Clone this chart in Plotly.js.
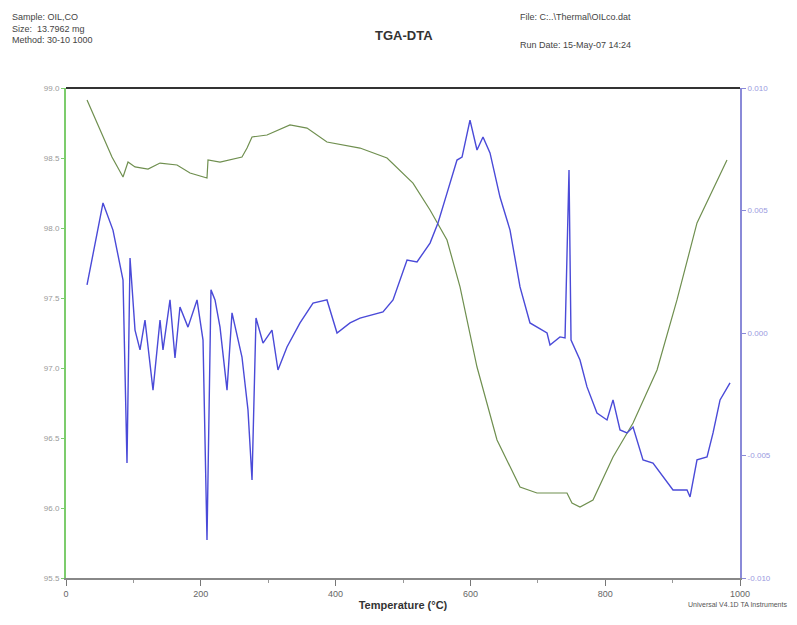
<!DOCTYPE html>
<html>
<head>
<meta charset="utf-8">
<script src="https://cdn.plot.ly/plotly-3.0.1.min.js"></script>
<style>html,body{margin:0;padding:0;background:#fff;}#chart{width:797px;height:625px;}</style>
</head>
<body>
<div id="chart"></div>
<script>
// TGA (weight %) curve, temperature in °C
const tgaTemp = [31.2, 68.2, 84.6, 92.0, 102.4, 121.7, 139.5, 164.7, 184.0, 209.2, 210.7, 228.5, 261.1, 268.6, 276.0, 298.2, 332.3, 357.6, 387.2, 436.2, 476.3, 500.0, 514.8, 540.1, 565.3, 584.6, 609.8, 639.5, 673.6, 698.8, 743.3, 750.7, 762.6, 781.9, 811.6, 841.3, 876.9, 906.5, 936.2, 980.7];
const tgaWeight = [98.914, 98.507, 98.364, 98.471, 98.436, 98.421, 98.464, 98.450, 98.393, 98.357, 98.486, 98.471, 98.507, 98.571, 98.650, 98.664, 98.736, 98.714, 98.614, 98.571, 98.500, 98.393, 98.321, 98.129, 97.914, 97.579, 97.007, 96.486, 96.150, 96.107, 96.107, 96.036, 96.007, 96.057, 96.364, 96.607, 96.986, 97.486, 98.036, 98.486];

// DTA signal curve
const dtaTemp = [31.2, 54.9, 69.7, 84.6, 90.5, 95.0, 102.4, 109.8, 117.2, 129.1, 139.5, 143.9, 154.3, 161.7, 169.1, 181.0, 194.4, 203.3, 209.2, 215.1, 221.1, 228.5, 238.9, 246.3, 261.1, 270.0, 276.0, 281.9, 292.3, 305.6, 314.5, 327.9, 347.2, 366.5, 387.2, 402.1, 421.4, 436.2, 470.3, 485.2, 506.0, 520.8, 540.1, 551.9, 565.3, 580.1, 587.6, 599.4, 609.8, 618.7, 629.1, 643.9, 658.8, 673.6, 688.4, 713.7, 718.1, 732.9, 740.4, 746.3, 749.3, 762.6, 773.0, 787.8, 802.7, 811.6, 822.0, 832.4, 841.3, 856.1, 870.9, 885.8, 900.6, 921.4, 925.9, 936.2, 951.1, 960.0, 970.4, 985.2];
const dtaSignal = [0.00196, 0.00531, 0.0042, 0.00216, -0.00531, 0.00306, 0.00012, -0.00069, 0.00053, -0.00233, 0.00053, -0.00069, 0.00135, -0.00102, 0.00106, 0.00024, 0.00135, -0.00029, -0.00845, 0.00176, 0.00135, 0.00024, -0.00233, 0.00082, -0.00098, -0.00314, -0.006, 0.00061, -0.00041, 0.00012, -0.00151, -0.00057, 0.00041, 0.00122, 0.00135, 0.0, 0.00041, 0.00061, 0.00086, 0.00135, 0.00298, 0.0029, 0.00367, 0.00449, 0.00571, 0.00706, 0.00718, 0.00869, 0.00747, 0.008, 0.00735, 0.00555, 0.0042, 0.00188, 0.00041, 0.0, -0.00049, -0.00016, -0.0002, 0.00665, -0.00029, -0.0011, -0.0022, -0.00327, -0.00355, -0.00273, -0.00396, -0.00408, -0.00384, -0.00518, -0.00531, -0.00588, -0.00641, -0.00641, -0.00669, -0.00518, -0.00506, -0.00408, -0.00273, -0.00204];

// Tick labels
const xTicks = [0, 200, 400, 600, 800, 1000];
const tgaTicks = [99.0, 98.5, 98.0, 97.5, 97.0, 96.5, 96.0, 95.5];
const tgaTickText = ["99.0", "98.5", "98.0", "97.5", "97.0", "96.5", "96.0", "95.5"];
const dtaTicks = [0.010, 0.005, 0.000, -0.005, -0.010];
const dtaTickText = ["0.010", "0.005", "0.000", "-0.005", "-0.010"];

const traces = [
  {x: tgaTemp, y: tgaWeight, type: 'scatter', mode: 'lines', line: {color: '#6f8f4f', width: 1.2}, yaxis: 'y', hoverinfo: 'x+y'},
  {x: dtaTemp, y: dtaSignal, type: 'scatter', mode: 'lines', line: {color: '#4a4ad8', width: 1.4}, yaxis: 'y2', hoverinfo: 'x+y'}
];

const layout = {
  width: 797, height: 625,
  margin: {l: 66, r: 57, t: 88, b: 47},
  paper_bgcolor: '#ffffff', plot_bgcolor: '#ffffff',
  showlegend: false,
  font: {family: 'Liberation Sans, Arial, sans-serif', color: '#555'},
  xaxis: {
    range: [0, 1000], tickvals: xTicks, ticktext: xTicks.map(String),
    showgrid: false, zeroline: false, showline: true, linecolor: '#888', linewidth: 2,
    ticks: 'outside', ticklen: 6, tickcolor: '#777',
    minor: {tickvals: [100, 300, 500, 700, 900], ticks: 'outside', ticklen: 3, tickcolor: '#999'},
    tickfont: {size: 9, color: '#666'},
    title: {text: '<b>Temperature (°C)</b>', font: {size: 11, color: '#333'}, standoff: 4}
  },
  yaxis: {
    range: [95.5, 99.0], tickvals: tgaTicks, ticktext: tgaTickText,
    showgrid: false, zeroline: false, showline: true, linecolor: '#7ccc6c', linewidth: 2,
    ticks: 'outside', ticklen: 3, tickcolor: '#7ccc6c',
    tickfont: {size: 8, color: '#999'}
  },
  yaxis2: {
    range: [-0.010, 0.010], tickvals: dtaTicks, ticktext: dtaTickText,
    overlaying: 'y', side: 'right',
    showgrid: false, zeroline: false, showline: true, linecolor: '#8a8ad8', linewidth: 2,
    ticks: 'outside', ticklen: 4, tickcolor: '#8a8ad8',
    tickfont: {size: 8, color: '#9a9ae0'}
  },
  shapes: [
    {type: 'line', xref: 'paper', yref: 'paper', x0: 0, x1: 1, y0: 1, y1: 1, line: {color: '#333', width: 2}}
  ],
  annotations: [
    {xref: 'paper', yref: 'paper', x: -0.083, y: 1.159, xanchor: 'left', yanchor: 'top', align: 'left', showarrow: false,
     text: 'Sample: OIL,CO<br>Size:  13.7962 mg<br>Method: 30-10 1000', font: {size: 9, color: '#444'}},
    {xref: 'paper', yref: 'paper', x: 0.502, y: 1.108, xanchor: 'center', yanchor: 'middle', showarrow: false,
     text: '<b>TGA-DTA</b>', font: {size: 13, color: '#333'}},
    {xref: 'paper', yref: 'paper', x: 0.67, y: 1.145, xanchor: 'left', yanchor: 'middle', showarrow: false,
     text: 'File: C:..\\Thermal\\OILco.dat', font: {size: 9, color: '#444'}},
    {xref: 'paper', yref: 'paper', x: 0.67, y: 1.088, xanchor: 'left', yanchor: 'middle', showarrow: false,
     text: 'Run Date: 15-May-07 14:24', font: {size: 9, color: '#444'}},
    {xref: 'paper', yref: 'paper', x: 1.072, y: -0.055, xanchor: 'right', yanchor: 'middle', showarrow: false,
     text: 'Universal V4.1D TA Instruments', font: {size: 7, color: '#555'}}
  ]
};

Plotly.newPlot('chart', traces, layout, {displayModeBar: false, staticPlot: true});
</script>
</body>
</html>
